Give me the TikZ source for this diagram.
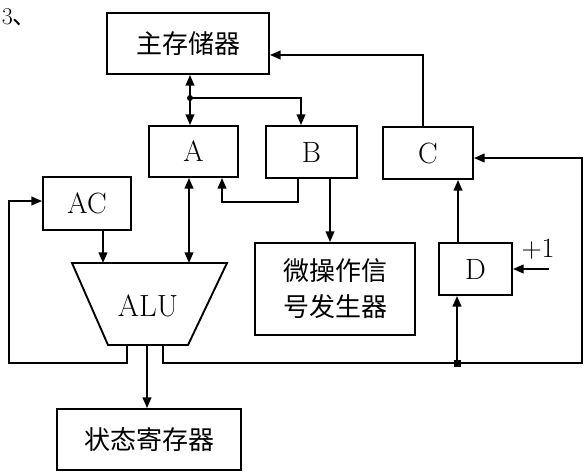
\documentclass[tikz,border=0pt]{standalone}
\usepackage{fontspec}
\newfontfamily\cjk{Noto Sans CJK SC}
\usetikzlibrary{arrows.meta}
\begin{document}
\begin{tikzpicture}[x=0.75pt,y=-0.75pt,
  every path/.style={line width=1.4pt},
  box/.style={draw,line width=1.4pt,inner sep=0pt,font=\fontsize{22}{24}\selectfont},
  cbox/.style={box,font=\cjk\fontsize{19.5}{27}\selectfont},
  arr/.style={-{Triangle[length=8pt,width=6.5pt]}},
  darr/.style={{Triangle[length=8pt,width=6.5pt]}-{Triangle[length=8pt,width=6.5pt]}}]
\useasboundingbox (0,0) rectangle (584,471);
% boxes
\node[cbox,minimum width=162*0.75pt,minimum height=61*0.75pt] (mem) at (188,43.5) {主存储器};
\node[box,minimum width=89*0.75pt,minimum height=51*0.75pt] (A) at (193.5,151.5) {A};
\node[box,minimum width=91*0.75pt,minimum height=52*0.75pt] (B) at (311.5,152) {B};
\node[box,minimum width=90*0.75pt,minimum height=52*0.75pt] (C) at (428,153) {C};
\node[box,minimum width=88*0.75pt,minimum height=53*0.75pt] (AC) at (87,203.5) {AC};
\node[cbox,minimum width=160*0.75pt,minimum height=92*0.75pt,align=center] (micro) at (335,289) {微操作信\\号发生器};
\node[box,minimum width=73*0.75pt,minimum height=52*0.75pt] (D) at (475.5,269) {D};
\node[cbox,minimum width=184*0.75pt,minimum height=61*0.75pt] (st) at (149,439.5) {状态寄存器};
% ALU trapezoid
\coordinate (alutl) at (72,263);
\coordinate (alutr) at (227,263);
\coordinate (alubr) at (188,345);
\coordinate (alubl) at (108,345);
\draw (alutl) -- (alutr) -- (alubr) -- (alubl) -- cycle;
\node[font=\fontsize{23}{24}\selectfont] (alu) at (148,306) {ALU};
% label
\node[anchor=west,inner sep=0pt,font=\fontsize{18}{20}\selectfont] (num) at (1,17) {3\cjk 、};
% coordinates
\coordinate (dot) at (190,98);
\coordinate (bx) at (301,98);
\coordinate (ba) at (298,202);
\coordinate (aa) at (222,202);
\coordinate (lft) at (9,363);
\coordinate (lftup) at (9,201);
\coordinate (rt) at (582,363);
\coordinate (rtup) at (582,158);
\coordinate (jn) at (457,363);
\coordinate (cup) at (423,55);
\coordinate (plus) at (549,269);
% connectors
\draw[arr] (dot) -- (dot |- mem.south);
\draw[arr] (dot) -- (dot |- A.north);
\fill (dot) circle (3);
\draw[arr] (dot) -- (bx) -- (bx |- B.north);
\draw[arr] (ba |- B.south) -- (ba) -- (aa) -- (aa |- A.south);
\draw[darr] (189,0 |- A.south) -- (189,263);
\draw[arr] (103,0 |- AC.south) -- (103,263);
\draw[arr] (127,345) -- (127,363) -- (lft) -- (lftup) -- (lftup -| AC.west);
\draw[arr] (147,345) -- (147,0 |- st.north);
\draw[arr] (163,345) -- (163,363) -- (rt) -- (rtup) -- (rtup -| C.east);
\draw[arr] (jn) -- (jn |- D.south);
\fill (jn) ++(-3.5,-3.5) rectangle ++(7,7);
\draw[arr] (458,0 |- D.north) -- (458,0 |- C.south);
\draw[arr] (cup |- C.north) -- (cup) -- (cup -| mem.east);
\draw[arr] (plus) -- (plus -| D.east);
\node[font=\fontsize{21}{22}\selectfont,inner sep=0pt] (p1) at (538,249) {+1};
\draw[arr] (330,0 |- B.south) -- (330,0 |- micro.north);
\end{tikzpicture}
\end{document}
